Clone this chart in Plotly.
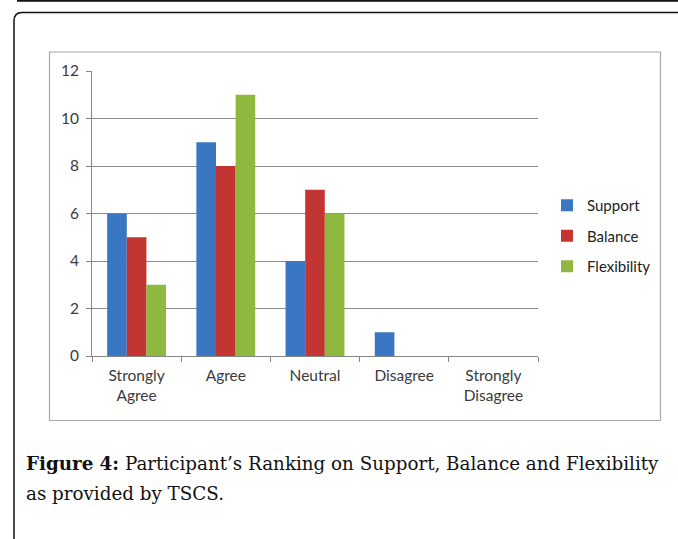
import plotly.graph_objects as go

categories = ["Strongly<br>Agree", "Agree", "Neutral", "Disagree", "Strongly<br>Disagree"]
support = [6, 9, 4, 1, 0]
balance = [5, 8, 7, 0, 0]
flexibility = [3, 11, 6, 0, 0]
series_names = ["Support", "Balance", "Flexibility"]
y_ticks = [0, 2, 4, 6, 8, 10, 12]

W, H = 678, 539
L, R, T, B = 92, 140, 71, 183
PW, PH = W - L - R, H - T - B


def px(x):
    return (x - L) / PW


def py(y):
    return (H - B - y) / PH


colors = ["#3A77C2", "#C33532", "#8EB83E"]
axis_font = dict(family="Lato, 'Open Sans', sans-serif", size=15.5, color="#3a3a3a")

fig = go.Figure()
for i, (name, vals) in enumerate(zip(series_names, [support, balance, flexibility])):
    fig.add_trace(go.Bar(
        x=categories, y=vals, name=name,
        marker=dict(color=colors[i], line=dict(width=0)),
        legendgroup=name,
    ))

shapes = [
    dict(type="rect", xref="paper", yref="paper",
         x0=px(49.5), x1=px(660.5), y0=py(420.5), y1=py(52),
         line=dict(color="#A8A8A8", width=1.2), fillcolor="rgba(0,0,0,0)", layer="below"),
    dict(type="path", xref="paper", yref="paper",
         path=f"M {px(14)},{py(560)} L {px(14)},{py(21)} Q {px(14)},{py(12.5)} {px(22)},{py(12.5)} L {px(700)},{py(12.5)}",
         line=dict(color="#111111", width=1.5)),
    dict(type="line", xref="paper", yref="paper",
         x0=px(17), x1=px(700), y0=py(0.8), y1=py(0.8),
         line=dict(color="#111111", width=2)),
]

cap_font = dict(family="'DejaVu Serif', serif", size=18.3, color="#111111")
annotations = [
    dict(text="<b>Figure 4:</b> Participant’s Ranking on Support, Balance and Flexibility",
         xref="paper", yref="paper", x=px(24), y=py(463), xanchor="left", yanchor="middle",
         showarrow=False, font=cap_font),
    dict(text="as provided by TSCS.",
         xref="paper", yref="paper", x=px(24), y=py(493), xanchor="left", yanchor="middle",
         showarrow=False, font=cap_font),
]

fig.update_layout(
    width=W, height=H,
    margin=dict(l=L, r=R, t=T, b=B, autoexpand=False),
    paper_bgcolor="white", plot_bgcolor="white",
    barmode="group", bargap=0.34, bargroupgap=0,
    shapes=shapes, annotations=annotations,
    legend=dict(x=px(547), y=py(189), xanchor="left", yanchor="top",
                font=dict(family="Lato, 'Open Sans', sans-serif", size=15, color="#222222"),
                tracegroupgap=8, itemwidth=30, bgcolor="rgba(0,0,0,0)"),
    xaxis=dict(type="category", showgrid=False, showline=True, linecolor="#868686", linewidth=1,
               ticks="outside", tickson="boundaries", ticklen=5, tickcolor="#868686",
               tickfont=axis_font, fixedrange=True, ticklabelstandoff=5),
    yaxis=dict(range=[0, 12], tickvals=y_ticks, showgrid=True, gridcolor="#8C8C8C", gridwidth=1,
               showline=True, linecolor="#868686", linewidth=1, ticks="outside", ticklen=5,
               tickcolor="#868686", tickfont=axis_font, zeroline=False, ticklabelstandoff=4),
)

fig.write_html("out.html", config={"displayModeBar": False},
               post_script="document.body.style.margin='0';")
